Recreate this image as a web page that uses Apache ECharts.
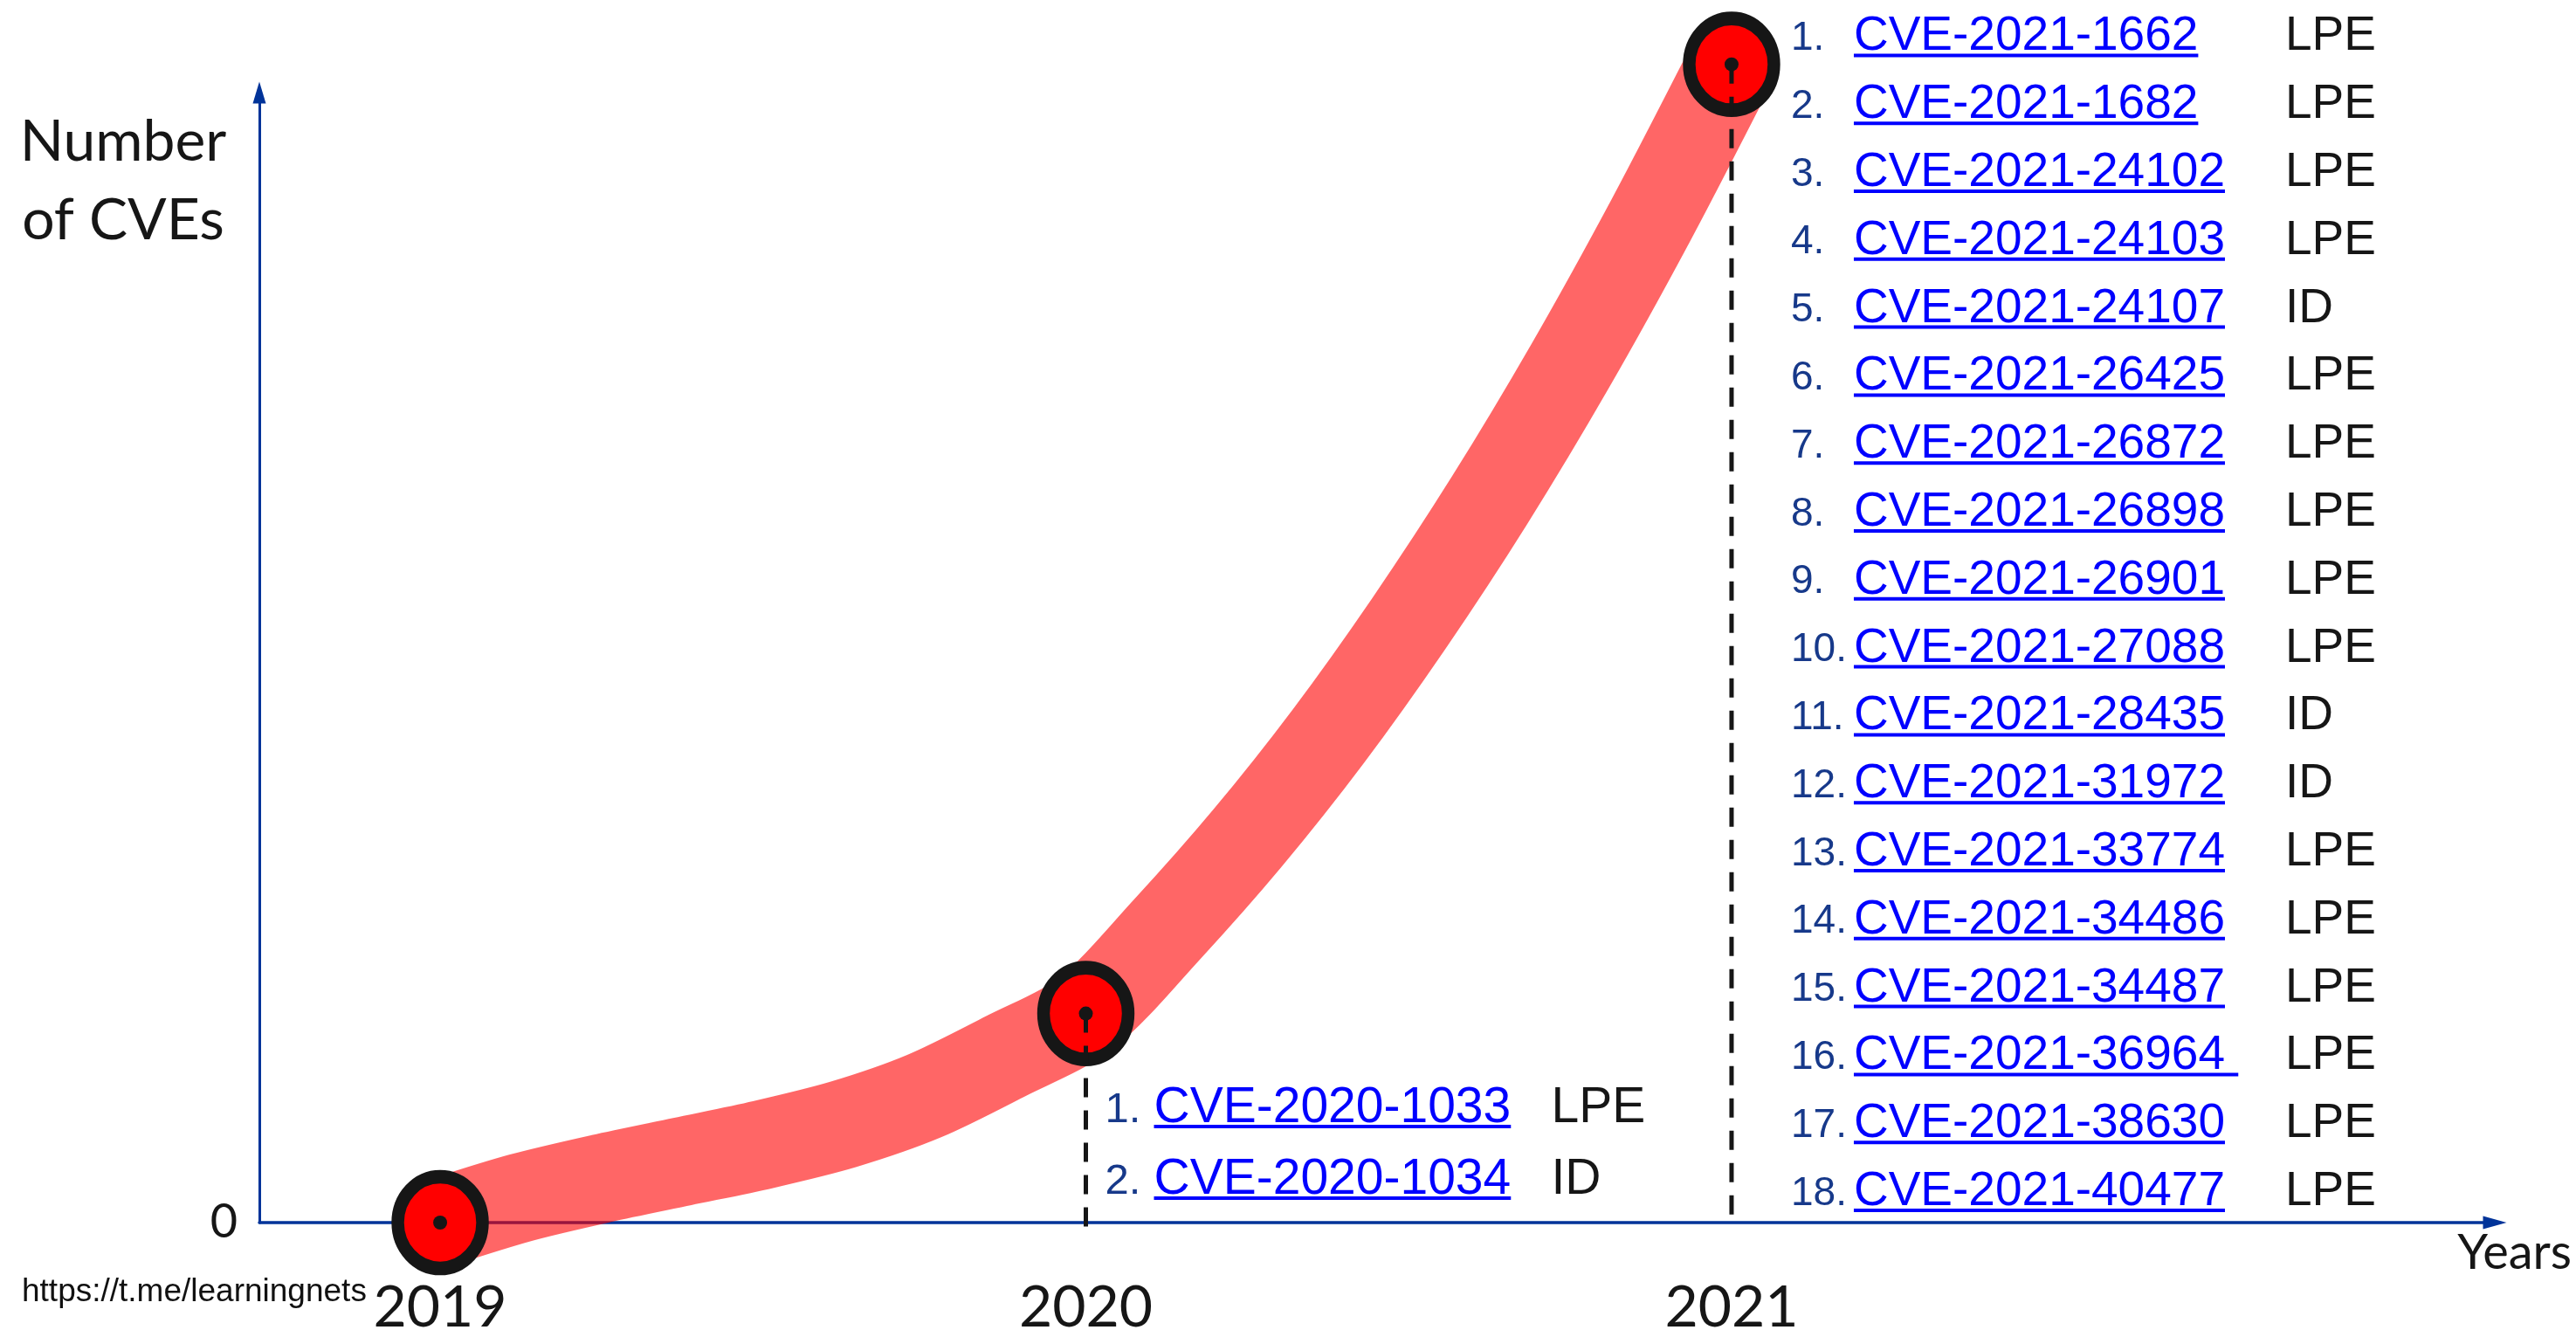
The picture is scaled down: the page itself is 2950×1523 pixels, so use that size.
<!DOCTYPE html>
<html><head><meta charset="utf-8">
<script src="https://cdn.jsdelivr.net/npm/echarts@6/dist/echarts.min.js"></script>
<style>html,body{margin:0;padding:0;background:#fff}#main{width:2950px;height:1523px}</style>
</head><body><div id="main"></div>
<script>
// ---- data ----
const years = [2019, 2020, 2021];
const yearLevels = [0, 18.5, 102.5];            // heights of the three markers (axis units 0..100)
const curveYears  = [2019, 2019.125, 2019.25, 2019.375, 2019.5, 2019.625, 2019.75, 2019.875, 2020,
  2020.125, 2020.25, 2020.375, 2020.5, 2020.625, 2020.75, 2020.875, 2021];
const curveLevels = [0, 2.2, 3.9, 5.4, 6.9, 8.7, 11.2, 14.7, 18.5, 25.9, 34.0, 43.0, 53.0, 63.9, 75.8, 88.7, 102.5];
const xTickLabels = [2019, 2020, 2021];
const yTickLabels = [0];
const cves2020  = ['CVE-2020-1033', 'CVE-2020-1034'];
const kinds2020 = ['LPE', 'ID'];
const cves2021  = ['CVE-2021-1662', 'CVE-2021-1682', 'CVE-2021-24102', 'CVE-2021-24103', 'CVE-2021-24107',
  'CVE-2021-26425', 'CVE-2021-26872', 'CVE-2021-26898', 'CVE-2021-26901', 'CVE-2021-27088', 'CVE-2021-28435',
  'CVE-2021-31972', 'CVE-2021-33774', 'CVE-2021-34486', 'CVE-2021-34487', 'CVE-2021-36964 ', 'CVE-2021-38630',
  'CVE-2021-40477'];
const kinds2021 = ['LPE', 'LPE', 'LPE', 'LPE', 'ID', 'LPE', 'LPE', 'LPE', 'LPE', 'LPE', 'ID', 'ID', 'LPE', 'LPE',
  'LPE', 'LPE', 'LPE', 'LPE'];

// ---- chart ----
const AXIS = '#003399', INK = '#161616', LINK = '#0000FF', NUM = '#17398A';
const chart = echarts.init(document.getElementById('main'));

const guideSeries = years.map((y, i) => ({
  type: 'line', silent: true, clip: false, symbol: 'none', z: 4,
  data: i === 0 ? [] : [[y, yearLevels[i]], [y, -0.4]],
  lineStyle: { color: INK, width: 5, type: [22, 15] }
}));

const option = {
  animation: false,
  backgroundColor: '#ffffff',
  grid: { left: 297, right: 93, top: 106, bottom: 123, containLabel: false, outerBoundsMode: 'none' },
  xAxis: {
    type: 'value', min: 2018.72, max: 2022.182,
    axisLine: { show: true, onZero: true, symbol: ['none', 'triangle'], symbolSize: [15, 27],
      lineStyle: { color: AXIS, width: 3.5 } },
    axisTick: { show: false }, splitLine: { show: false },
    axisLabel: { customValues: xTickLabels, color: INK, fontFamily: 'Lato', fontSize: 66, lineHeight: 66,
      margin: 65, formatter: v => String(v) }
  },
  yAxis: {
    type: 'value', min: 0, max: 100,
    axisLine: { show: true, onZero: false, symbol: ['none', 'triangle'], symbolSize: [15, 25],
      lineStyle: { color: AXIS, width: 3 } },
    axisTick: { show: false }, splitLine: { show: false },
    axisLabel: { customValues: yTickLabels, color: INK, fontFamily: 'Lato', fontSize: 54, margin: 25,
      padding: [6, 0, 0, 0] }
  },
  series: [
    { type: 'line', name: 'trend', silent: true, clip: false, smooth: 0.3,
      showSymbol: false, symbol: 'none', z: 2,
      data: curveYears.map((x, i) => [x, curveLevels[i]]),
      lineStyle: { color: 'rgba(255,0,0,0.6)', width: 102, cap: 'butt', join: 'round' } },
    { type: 'scatter', name: 'years', silent: true, clip: false, z: 3, symbol: 'circle', symbolSize: [97, 105],
      data: years.map((y, i) => [y, yearLevels[i]]),
      itemStyle: { color: '#FF0000', borderColor: INK, borderWidth: 15, opacity: 1 } },
    ...guideSeries,
    { type: 'scatter', name: 'dots', silent: true, clip: false, z: 5, symbol: 'circle', symbolSize: 16,
      data: years.map((y, i) => [y, yearLevels[i]]),
      itemStyle: { color: INK, opacity: 1 } }
  ]
};
chart.setOption(option);

// ---- annotations ----
const mctx = document.createElement('canvas').getContext('2d');
function textWidth(str, font) { mctx.font = font; return mctx.measureText(str).width; }
const SANS = '"Liberation Sans", Arial, sans-serif';
const MID = 0.24;   // baseline -> text middle, in em

function listGraphics(cves, kinds, year, cfg) {
  const a = chart.convertToPixel({ gridIndex: 0 }, [year, 0]);
  const out = [];
  const n = cves.length;
  cves.forEach((cve, i) => {
    const base = a[1] - cfg.lastOffset - (n - 1 - i) * cfg.pitch;
    const numX = a[0] + cfg.numDx;
    const numStr = (i + 1) + '.';
    const numFont = cfg.numSize + 'px ' + SANS;
    const cveFont = cfg.cveSize + 'px ' + SANS;
    const cveX = numX + Math.max(cfg.cveDx, textWidth(numStr, numFont) - 1);
    const kindX = cveX + cfg.kindDx;
    out.push({ type: 'text', silent: true, z: 10, x: numX, y: base - MID * cfg.numSize,
      style: { text: numStr, font: numFont, fill: NUM, textAlign: 'left', textVerticalAlign: 'middle' } });
    out.push({ type: 'text', silent: true, z: 10, x: cveX, y: base - MID * cfg.cveSize,
      style: { text: cve, font: cveFont, fill: LINK, textAlign: 'left', textVerticalAlign: 'middle' } });
    out.push({ type: 'rect', silent: true, z: 10,
      shape: { x: cveX, y: base + cfg.ulDy, width: textWidth(cve, cveFont), height: 4 },
      style: { fill: LINK } });
    out.push({ type: 'text', silent: true, z: 10, x: kindX, y: base - MID * cfg.cveSize,
      style: { text: kinds[i], font: cveFont, fill: INK, textAlign: 'left', textVerticalAlign: 'middle' } });
  });
  return out;
}

const graphics = [
  { type: 'text', silent: true, x: 141, y: 208,
    style: { text: 'Number\nof CVEs', font: '66px Lato', lineHeight: 90, fill: INK, textAlign: 'center', textVerticalAlign: 'middle' } },
  { type: 'text', silent: true, x: 2945, y: 1435,
    style: { text: 'Years', font: '56px Lato', fill: INK, textAlign: 'right', textVerticalAlign: 'middle' } },
  { type: 'text', silent: true, x: 25, y: 1480,
    style: { text: 'https://t.me/learningnets', font: '37px ' + SANS, fill: '#111111', textAlign: 'left', textVerticalAlign: 'middle' } },
  ...listGraphics(cves2020, kinds2020, 2020, { lastOffset: 35, pitch: 82, numDx: 22, numSize: 49, cveSize: 57, cveDx: 56, kindDx: 455, ulDy: 5 }),
  ...listGraphics(cves2021, kinds2021, 2021, { lastOffset: 22, pitch: 77.8, numDx: 68, numSize: 46, cveSize: 55, cveDx: 72, kindDx: 494, ulDy: 6 })
];
chart.setOption({ graphic: graphics });
</script></body></html>
